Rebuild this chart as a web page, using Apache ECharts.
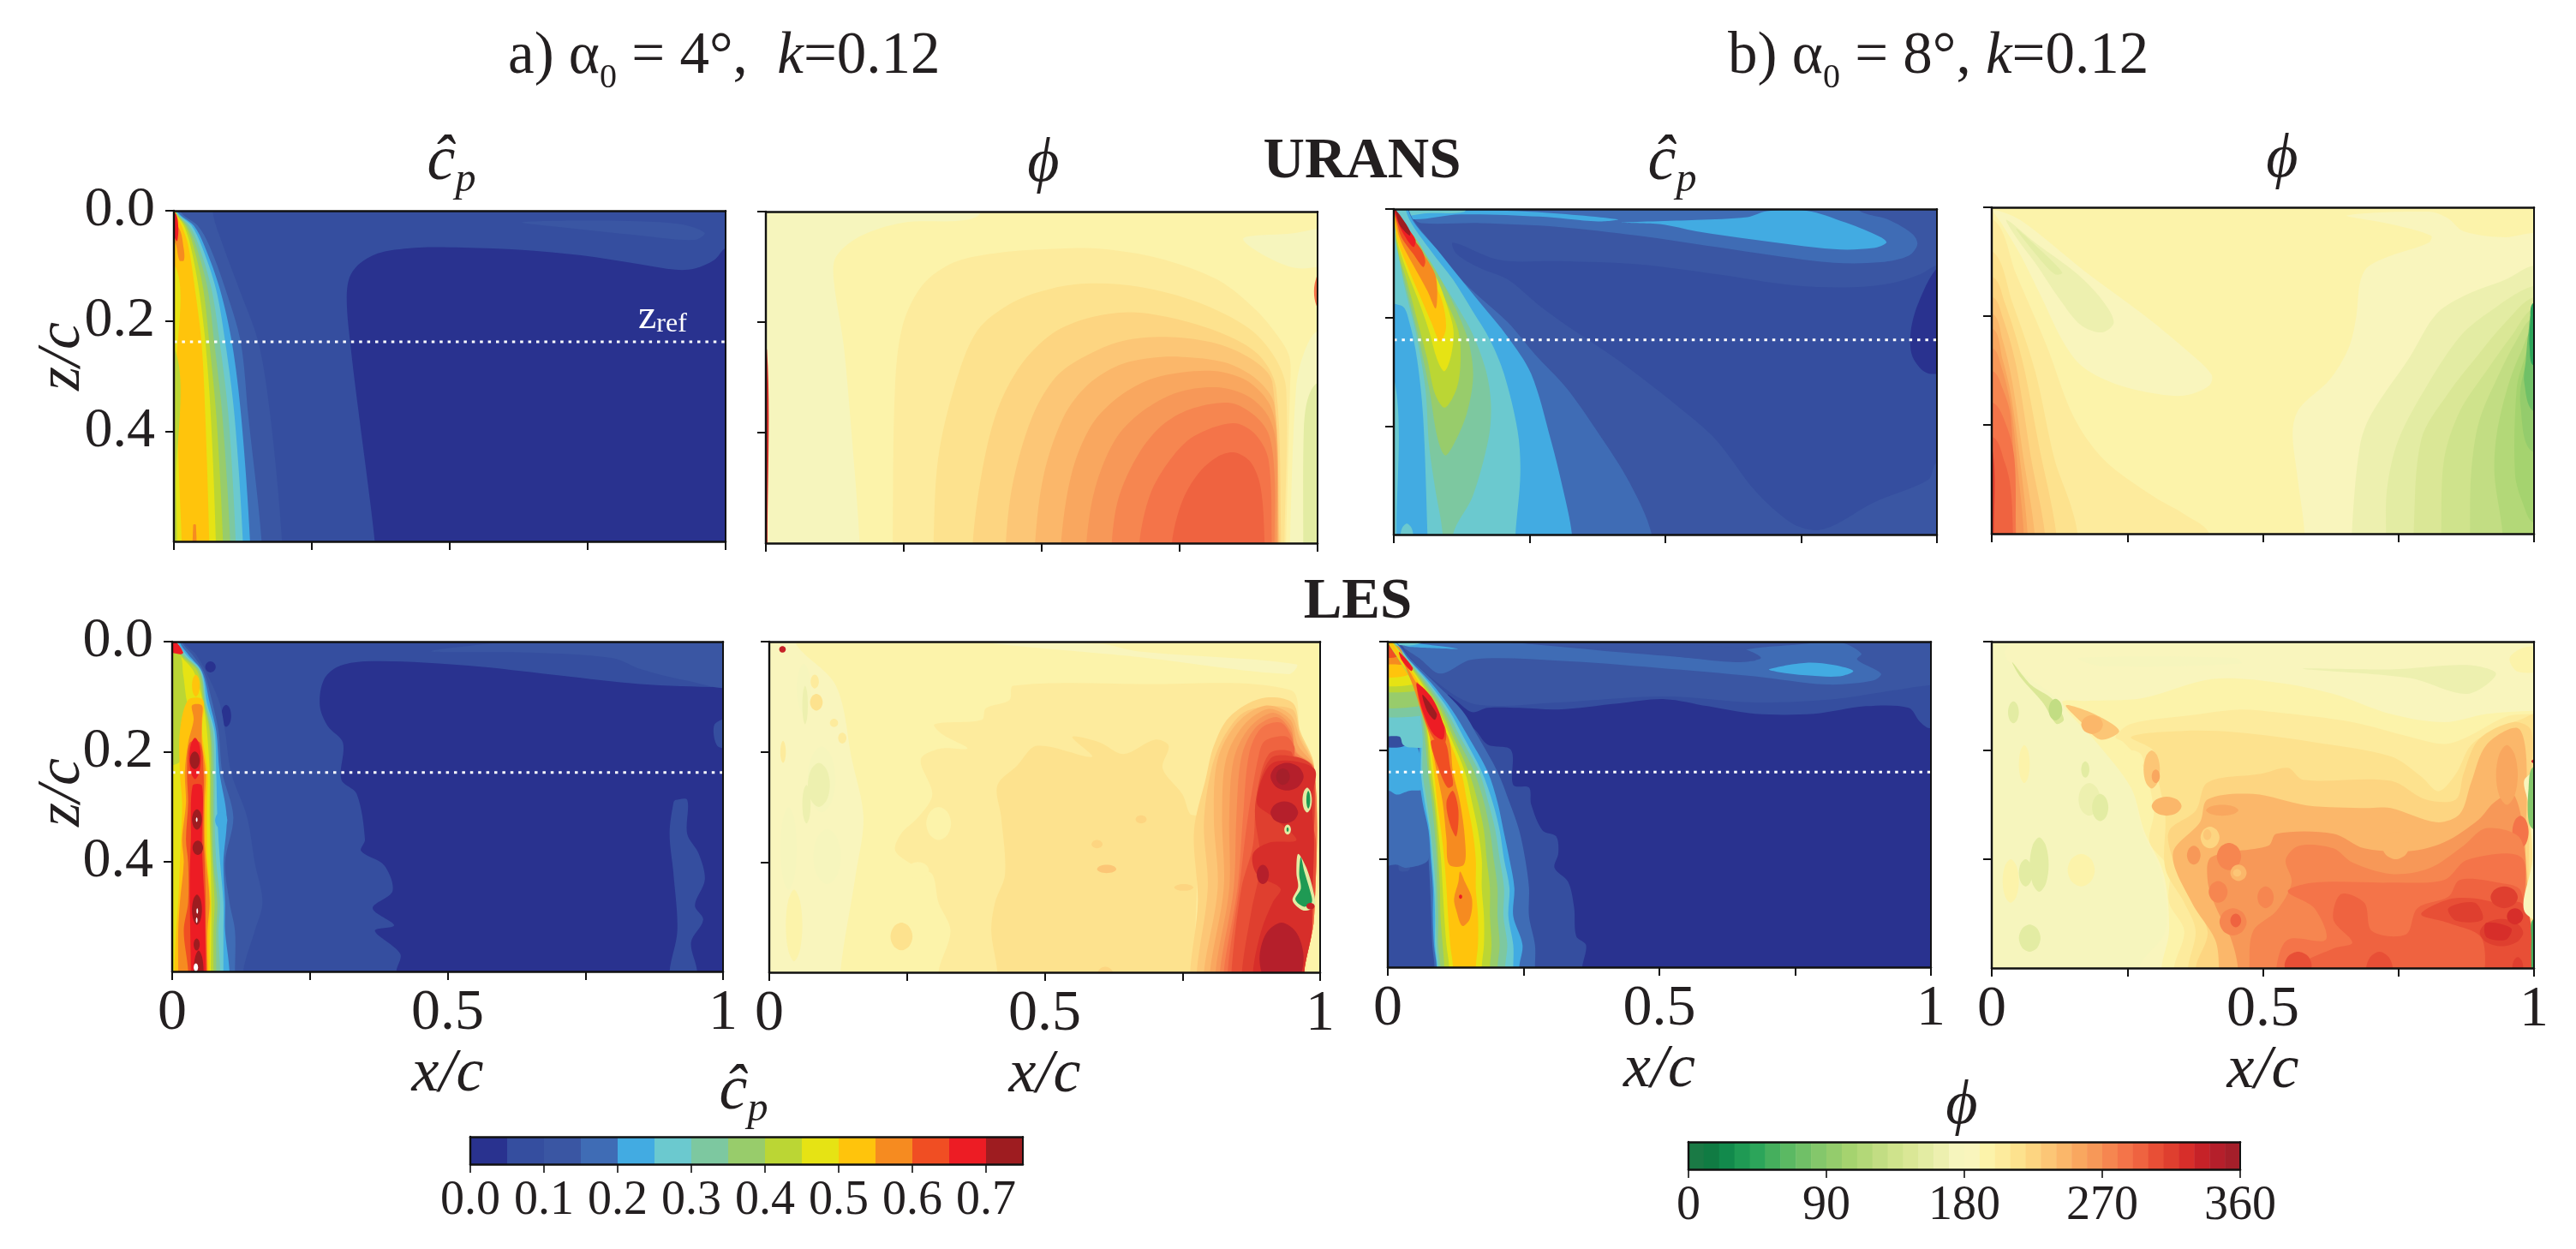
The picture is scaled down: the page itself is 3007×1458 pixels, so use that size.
<!DOCTYPE html>
<html><head><meta charset="utf-8">
<style>html,body{margin:0;padding:0;background:#fff}#c{width:3007px;height:1458px}</style>
<script src="https://cdn.jsdelivr.net/npm/echarts@6/dist/echarts.min.js"></script>
</head><body><div id="c"></div>
<script>
// ---------- colour levels (each level is 0.05 of cp-hat or 10 degrees of phi) ----------
const cpColors=['#29328F','#354E9F','#3A56A3','#3F6CB5','#42ABE2','#6BC9CF','#7DC8A0','#98CC6B','#BBD634','#E6E314','#FFC40C','#F68B20','#F04E23','#ED1C24','#9E1C20'];
const phiColors=['#1A7A45','#107B43','#128A4C','#1F9A54','#2CA55A','#45AF5D','#5BB963','#70C067','#84C76B','#94CC6C','#A5D36F','#B3D878','#C2DD83','#CFE38C','#DAE796','#E3ECA3','#EDF0AF','#F6F5BD','#F9F5BD','#FCF3AA','#FDEB9D','#FDE28E','#FDD581','#FCC676','#FBB76A','#F9A75F','#F79858','#F68650','#F47449','#EF6340','#E84F36','#DF3F2F','#D72E2A','#C62228','#B51F2B','#A51F2A'];
const xTicks=[0,.25,.5,.75,1], xLabels=[0,.5,1], zTicks=[0,.2,.4];
const cpBarTicks=[0,.1,.2,.3,.4,.5,.6,.7], phiBarTicks=[0,90,180,270,360];
// ---------- small builders that turn read-off outlines into closed contour bands ----------
const ALL=l=>[l,[-1,-1,2,-1,2,2,-1,2]];
const oval=(l,a,b,c,d)=>{const m=(a+b)/2,n=(c+d)/2,p=(b-a)*.35,q=(d-c)*.35;return [l,[a,n,m-p,n-q,m,c,m+p,n-q,b,n,m+p,n+q,m,d,m-p,n+q]];};
const edge=(l,zs,xs)=>[l,[-.1,zs[0]-.05,xs[0],zs[0]-.05,...zs.flatMap((z,i)=>[xs[i],z]),xs[xs.length-1],.7,-.1,.7]];
const foot=(l,p)=>[l,[p[0],.7,...p,p[p.length-2],.7]];
const side=(l,p,o)=>[l,[o,p[1],...p,p[p.length-2],.7,o,.7]];
const rib=(l,zs,ls,rs)=>[l,[...zs.flatMap((z,i)=>[rs[i],z]),...zs.slice().reverse().flatMap((z,i)=>[ls[zs.length-1-i],z])]];
// ---------- z_ref ----------
const zRefA=.238, zRefB=.241, zRefC=.238, zRefD=.2405;
// ---------- URANS, alpha 4, cp ----------
const z1=[0,.027,.063,.141,.238,.374,.6];
const uransCpA=[ALL(1),
[0,[1.05,.06,1,.068,.98,.089,.944,.105,.909,.107,.845,.097,.738,.081,.631,.071,.524,.067,.445,.067,.374,.076,.339,.094,.321,.115,.314,.141,.314,.182,.319,.234,.328,.312,.346,.452,.364,.6,.37,.7,1.1,.7,1.1,.05]],
[2,[.631,.021,.773,.018,.916,.024,.962,.04,.944,.053,.845,.045,.702,.03]],
edge(2,[.006,.063,.141,.238,.374,.6],[.071,.089,.118,.153,.175,.196]),
edge(3,z1,[.011,.043,.064,.093,.121,.135,.159]),
edge(4,z1,[.006,.036,.055,.083,.105,.122,.138]),
edge(5,z1,[.004,.032,.05,.076,.093,.11,.125]),
edge(6,z1,[.003,.028,.045,.068,.083,.099,.112]),
edge(7,z1,[.003,.024,.04,.061,.073,.088,.102]),
edge(8,z1,[.002,.021,.035,.053,.064,.077,.089]),
edge(9,z1,[.002,.018,.03,.045,.057,.067,.076]),
edge(10,z1,[.001,.014,.026,.038,.05,.057,.064]),
[9,[-.1,.1,.002,.1,.004,.3,.01,.5,.014,.6,.014,.7,-.1,.7]],
[8,[-.1,.25,.001,.25,.004,.5,.006,.6,.006,.7,-.1,.7]],
[11,[-.02,.02,.008,.03,.018,.07,.018,.09,.01,.09,.003,.06]],
[13,[-.02,-.01,.003,.005,.008,.03,.006,.055,.002,.05]],
[11,[.035,.57,.04,.57,.041,.7,.034,.7]]];
// ---------- URANS, alpha 4, phi ----------
const uransPhiA=[ALL(19),
[17,[-.1,-.05,.383,-.05,.383,.009,.248,.02,.17,.045,.127,.082,.123,.123,.141,.242,.155,.397,.17,.6,.17,.7,-.1,.7]],
[17,[.865,.05,.95,.04,1.05,.03,1.05,.08,.96,.102]],
[17,[1.05,.216,1,.216,.975,.257,.961,.32,.95,.6,.95,.7,1.1,.7,1.1,.2]],
[15,[1.05,.31,1,.31,.982,.34,.975,.397,.974,.6,.974,.7,1.1,.7,1.1,.3]],
foot(20,[.23,.6,.234,.32,.248,.206,.284,.133,.341,.092,.426,.074,.533,.067,.604,.067,.711,.084,.818,.123,.89,.18,.936,.237,.95,.268,.95,.32,.943,.6]),
foot(21,[.304,.6,.312,.449,.341,.32,.383,.216,.448,.164,.519,.139,.59,.13,.676,.136,.783,.164,.875,.211,.922,.263,.943,.32,.94,.6]),
foot(22,[.375,.6,.391,.475,.419,.361,.462,.278,.519,.221,.583,.193,.661,.182,.747,.195,.84,.226,.897,.263,.925,.32,.934,.6]),
foot(23,[.435,.6,.448,.49,.483,.371,.526,.299,.576,.263,.647,.234,.733,.227,.818,.239,.882,.268,.918,.309,.931,.6]),
foot(24,[.488,.6,.504,.475,.54,.371,.583,.314,.64,.278,.697,.265,.754,.263,.832,.273,.89,.304,.922,.351,.929,.6]),
foot(25,[.535,.6,.554,.475,.59,.387,.64,.335,.704,.301,.804,.288,.868,.304,.911,.345,.925,.397,.928,.6]),
foot(26,[.581,.6,.597,.5,.633,.413,.683,.361,.747,.327,.818,.318,.875,.335,.911,.371,.925,.423,.926,.6]),
foot(27,[.627,.6,.64,.516,.676,.438,.718,.387,.768,.358,.84,.346,.882,.366,.911,.402,.922,.475,.922,.6]),
foot(28,[.677,.6,.697,.511,.733,.449,.775,.407,.847,.383,.886,.402,.911,.449,.917,.6]),
foot(29,[.736,.6,.754,.526,.783,.475,.818,.444,.85,.436,.879,.454,.897,.5,.904,.6]),
[28,[.995,.13,1.02,.07,1.02,.19,.998,.17]],
[32,[-.02,.25,.002,.25,.003,.6,.003,.7,-.02,.7]]];
// ---------- URANS, alpha 8, cp ----------
const uransCpB=[ALL(2),
[1,[.109,.062,.195,.094,.304,.096,.449,.102,.593,.12,.738,.141,.847,.144,.919,.136,.97,.12,1,.104,1.05,.1,1.05,.47,1,.467,.984,.499,.883,.541,.81,.583,.774,.592,.731,.578,.666,.52,.593,.425,.521,.362,.412,.278,.326,.22,.268,.178,.21,.13,.159,.109,.116,.083]],
[0,[1,.109,.966,.173,.952,.225,.955,.272,.984,.303,1.03,.29,1.03,.1]],
[3,[.854,-.05,.854,0,.912,.02,.955,.046,.964,.065,.948,.086,.897,.098,.81,.099,.702,.086,.593,.07,.449,.049,.304,.033,.159,.026,.051,.026,.036,.015,.036,-.05]],
[4,[.42,.025,.557,.02,.651,.015,.687,.004,.76,.003,.832,.025,.897,.052,.907,.062,.883,.072,.81,.074,.666,.057,.557,.041,.492,.028]],
[4,[.029,.007,.13,.003,.253,.005,.412,.019,.376,.023,.268,.014,.123,.01,.036,.019]],
[5,[.007,-.01,.13,-.01,.13,.005,.06,.008,.012,.012]],
[3,[0,-.05,.036,.02,.065,.057,.109,.115,.152,.157,.21,.209,.26,.268,.318,.33,.376,.412,.434,.504,.475,.6,.48,.7,-.1,.7,-.1,-.05]],
[4,[0,-.05,.036,.023,.08,.075,.116,.12,.159,.173,.21,.236,.253,.304,.289,.425,.311,.514,.328,.6,.33,.7,-.1,.7,-.1,-.05]],
[5,[0,-.05,.029,.02,.069,.078,.109,.13,.145,.188,.177,.241,.203,.304,.228,.409,.233,.488,.224,.6,.22,.7,-.1,.7,-.1,-.05]],
[4,[-.05,.183,.014,.178,.029,.21,.043,.278,.054,.383,.062,.6,.064,.7,-.05,.7]],
[5,[-.05,.32,.002,.32,.005,.6,.005,.7,-.05,.7]],
oval(5,.012,.036,.58,.63),
[6,[.004,.025,.058,.083,.087,.13,.116,.178,.145,.23,.17,.299,.179,.362,.174,.425,.145,.53,.109,.6,.109,.7,.09,.7,.09,.6,.076,.514,.065,.436,.058,.33,.04,.225,.018,.136,.007,.067]],
[7,[.094,.454,.08,.42,.065,.33,.043,.225,.022,.141,.007,.078,.004,.041,.029,.041,.065,.094,.09,.136,.116,.188,.138,.246,.146,.309,.134,.378,.109,.436]],
[8,[.094,.366,.076,.341,.062,.278,.047,.22,.025,.136,.007,.073,.005,.03,.022,.041,.051,.088,.076,.13,.098,.173,.119,.225,.123,.278,.116,.33]],
[9,[.093,.299,.08,.278,.065,.225,.047,.173,.022,.109,.006,.057,.003,.015,.018,.03,.051,.083,.08,.13,.098,.178,.11,.225,.105,.272]],
[10,[.085,.244,.069,.209,.051,.167,.029,.115,.007,.057,.002,.01,.022,.036,.051,.088,.072,.13,.09,.173,.096,.22]],
[11,[.077,.183,.062,.151,.036,.104,.011,.054,.001,.005,.011,.02,.033,.052,.058,.088,.076,.12,.08,.151]],
[12,[.054,.107,.036,.083,.014,.052,.006,.025,0,0,.011,.015,.029,.046,.051,.075,.058,.096]],
[13,[.036,.07,.018,.046,.006,.02,0,-.002,.007,.007,.022,.03,.04,.057]],
[14,[.029,.049,.011,.03,.004,.007,0,-.002,.014,.015,.03,.041]]];
// ---------- URANS, alpha 8, phi ----------
const uransPhiB=[ALL(19),
[18,[.003,.005,.052,.023,.172,.118,.278,.196,.355,.259,.405,.307,.401,.328,.355,.346,.292,.341,.221,.322,.165,.291,.13,.244,.094,.17,.052,.086,.017,.028]],
[16,[.027,.023,.08,.065,.158,.123,.207,.175,.225,.212,.204,.23,.165,.217,.126,.17,.08,.102,.045,.055]],
[15,[.045,.039,.087,.076,.13,.12,.116,.123,.077,.081]],
[18,[.655,.015,.736,.031,.81,.052,.806,.065,.736,.089,.693,.11,.679,.139,.672,.202,.658,.259,.623,.317,.567,.37,.555,.412,.563,.49,.577,.6,.577,.7,1.1,.7,1.1,.047,1,.047,.947,.055,.87,.044,.841,.02,.806,.008]],
side(16,[1,.107,.947,.133,.877,.16,.82,.196,.771,.275,.7,.38,.679,.438,.664,.6],1.1),
side(15,[1,.144,.912,.196,.863,.238,.806,.322,.75,.427,.729,.517,.727,.6],1.1),
side(14,[1,.165,.947,.212,.898,.27,.841,.343,.792,.427,.778,.6],1.1),
side(13,[1,.186,.961,.233,.912,.301,.863,.375,.834,.464,.829,.6],1.1),
side(12,[1,.202,.968,.244,.933,.312,.898,.396,.884,.49,.882,.6],1.1),
side(11,[1,.223,.979,.259,.954,.322,.932,.412,.927,.49,.942,.6],1.1),
[10,[1.1,.241,1,.241,.982,.28,.968,.333,.965,.49,.979,.543,1,.58,1.1,.58]],
[9,[1.1,.27,1,.27,.979,.312,.975,.364,.996,.448,1.1,.45]],
[7,[1.1,.191,1,.191,.99,.228,.985,.28,.982,.322,1,.375,1.1,.375]],
[4,[1.1,.175,1,.175,.993,.212,.992,.259,1,.291,1.1,.291]],
side(20,[.003,.023,.045,.123,.101,.254,.151,.385,.207,.464,.299,.532,.355,.564,.401,.6],-.1),
side(21,[.001,.081,.038,.175,.08,.301,.116,.464,.144,.543,.158,.6],-.1),
side(22,[.001,.128,.024,.175,.056,.28,.087,.438,.119,.6],-.1),
side(23,[.001,.165,.02,.202,.045,.291,.073,.464,.098,.6],-.1),
side(24,[.001,.196,.02,.244,.038,.322,.059,.464,.079,.6],-.1),
side(25,[.001,.223,.02,.28,.035,.343,.052,.464,.066,.6],-.1),
side(26,[.001,.259,.017,.291,.035,.364,.049,.49,.059,.6],-.1),
side(27,[.001,.301,.02,.333,.035,.385,.045,.6],-.1),
side(28,[.001,.359,.027,.401,.042,.464,.044,.6],-.1),
side(29,[.001,.422,.024,.469,.035,.517,.039,.6],-.1),
[31,[-.02,.45,.002,.45,.004,.6,.004,.7,-.02,.7]]];
// ---------- LES, alpha 4, cp ----------
const z5=[0,.023,.054,.111,.163,.238,.319,.402,.474,.526,.6];
const lesCpA=[ALL(1),
[0,[1.05,.083,.996,.083,.849,.077,.707,.062,.564,.046,.457,.038,.35,.036,.3,.046,.275,.07,.268,.116,.282,.153,.31,.184,.307,.251,.335,.277,.35,.36,.343,.381,.385,.407,.4,.454,.364,.485,.403,.516,.368,.526,.414,.568,.407,.6,.407,.7,1.1,.7,1.1,.08]],
[1,[.914,.288,.935,.288,.935,.35,.956,.386,.967,.433,.949,.48,.964,.506,.942,.547,.953,.6,.953,.7,.903,.7,.903,.6,.917,.526,.91,.422,.903,.35,.91,.293]],
[1,[.985,.15,1.02,.14,1.02,.19,.99,.19]],
oval(0,.089,.107,.115,.155),oval(0,.06,.079,.036,.056),
[2,[.47,.017,.65,.02,.8,.03,.85,.05,.93,.07,1.02,.08,1.02,-.01,.75,-.01]],
edge(2,z5,[.021,.043,.061,.086,.096,.107,.136,.15,.164,.15,.129]),
edge(3,z5,[.018,.036,.057,.073,.084,.091,.111,.096,.104,.114,.114]),
edge(4,z5,[.014,.029,.054,.068,.08,.086,.099,.093,.096,.096,.104]),
edge(5,z5,[.011,.025,.053,.063,.077,.08,.082,.087,.093,.093,.093]),
edge(6,z5,[.009,.021,.051,.061,.074,.077,.077,.08,.087,.084,.087]),
edge(7,z5,[.006,.018,.05,.059,.07,.074,.074,.075,.082,.08,.08]),
edge(8,z5,[.004,.014,.046,.057,.068,.07,.07,.073,.077,.075,.075]),
edge(9,z5,[.004,.013,.039,.056,.063,.068,.068,.07,.071,.071,.07]),
[8,[-.05,.023,.012,.023,.02,.06,.025,.1,.03,.13,.018,.17,.012,.22,-.05,.22]],
rib(10,[.106,.163,.238,.293,.36,.402,.474,.526,.6,.7],[.029,.014,.014,.018,.016,.014,.011,.007,.004,.004],[.056,.054,.064,.063,.063,.064,.07,.068,.068,.068]),
oval(10,.036,.05,.06,.1),
rib(11,[.116,.142,.184,.238,.293,.36,.402,.474,.526,.6,.7],[.036,.039,.029,.023,.025,.018,.021,.014,.011,.011,.011],[.054,.054,.054,.061,.059,.059,.062,.068,.064,.064,.064]),
rib(12,[.184,.238,.293,.36,.402,.474,.526,.6,.7],[.032,.027,.029,.025,.029,.029,.021,.029,.029],[.051,.057,.057,.057,.059,.061,.061,.063,.063]),
oval(13,.031,.052,.175,.25),
rib(13,[.262,.36,.422,.474,.6,.7],[.037,.034,.032,.032,.034,.034],[.054,.054,.056,.059,.061,.061]),
oval(14,.032,.05,.2,.232),oval(14,.036,.054,.305,.342),oval(14,.037,.056,.362,.388),oval(14,.036,.054,.46,.515),oval(14,.039,.05,.54,.562),oval(14,.039,.057,.562,.64),
oval(-1,.043,.046,.32,.328),oval(-1,.044,.047,.485,.495),oval(-1,.043,.046,.502,.512),oval(-1,.039,.047,.585,.6),
[13,[-.02,-.01,.006,0,.02,.02,.015,.023,-.02,.012]],
oval(4,.078,.1,.31,.34)];
// ---------- LES, alpha 4, phi ----------
const lesPhiA=[ALL(19),
[18,[-.1,-.05,.05,-.02,.05,.007,.121,.08,.15,.214,.171,.318,.157,.422,.129,.6,.129,.7,-.1,.7]],
[18,[.4,.002,.671,.028,.943,.059,.957,.041,.671,.018,.6,.004]],
oval(17,.05,.075,.04,.13),oval(16,.06,.07,.08,.15),oval(17,.07,.12,.19,.31),oval(16,.07,.11,.22,.3),oval(17,.02,.05,.3,.45),oval(17,.08,.13,.34,.44),oval(16,.06,.075,.26,.33),oval(19,.03,.06,.45,.58),oval(20,.02,.03,.18,.22),oval(21,.074,.097,.095,.125),oval(20,.125,.14,.165,.185),oval(20,.075,.09,.06,.085),oval(20,.11,.125,.14,.155),
[20,[.443,.08,.671,.077,.946,.088,.964,.163,.989,.225,1,.4,.99,.5,.975,.6,.975,.7,.307,.7,.307,.6,.329,.525,.307,.473,.296,.422,.271,.411,.229,.38,.239,.349,.271,.318,.296,.277,.275,.214,.311,.194,.36,.194,.314,.168,.3,.15,.386,.142,.393,.121,.436,.106]],
oval(19,.285,.33,.3,.36),oval(21,.22,.26,.51,.56),oval(19,.25,.29,.4,.43),
[21,[.486,.189,.586,.209,.55,.173,.6,.183,.643,.204,.7,.178,.725,.189,.714,.23,.75,.277,.764,.313,.778,.318,.771,.6,.771,.7,.414,.7,.414,.6,.403,.525,.41,.473,.428,.422,.421,.318,.414,.261,.45,.225]],
oval(22,.665,.685,.315,.33),oval(22,.585,.605,.36,.375),oval(23,.595,.63,.405,.42),oval(22,.735,.77,.44,.452),oval(22,.595,.625,.59,.62),
foot(22,[.764,.6,.778,.473,.771,.344,.793,.246,.807,.189,.835,.137,.893,.103,.95,.111,.964,.163,.989,.225,.989,.5,.971,.6]),
foot(23,[.776,.6,.796,.448,.789,.33,.803,.23,.828,.168,.868,.125,.948,.122,.964,.17,.989,.228,.989,.5,.971,.6]),
foot(24,[.789,.6,.814,.448,.807,.318,.814,.214,.85,.147,.9,.116,.946,.132,.964,.178,.989,.23,.989,.5,.971,.6]),
foot(25,[.8,.6,.825,.448,.822,.318,.829,.214,.861,.152,.907,.122,.946,.142,.96,.188,.989,.23,.989,.5,.971,.6]),
foot(26,[.81,.6,.835,.448,.835,.318,.843,.214,.871,.157,.914,.129,.946,.152,.957,.199,.989,.23,.989,.5,.971,.6]),
foot(27,[.818,.6,.843,.448,.848,.318,.857,.21,.882,.157,.922,.137,.948,.165,.955,.2,.989,.23,.989,.5,.971,.6]),
foot(28,[.825,.6,.85,.448,.86,.318,.871,.204,.893,.157,.929,.147,.95,.178,.953,.204,.989,.23,.989,.5,.971,.6]),
foot(29,[.832,.6,.853,.448,.869,.318,.889,.204,.9,.18,.938,.172,.953,.19,.955,.215,.987,.23,.987,.4,.985,.5,.971,.6]),
foot(30,[.839,.6,.857,.448,.878,.37,.885,.277,.907,.204,.946,.199,.957,.225,.985,.23,.985,.318,.993,.37,.985,.525,.971,.6]),
foot(31,[.858,.6,.875,.49,.892,.4,.882,.3,.91,.212,.96,.21,.987,.23,.987,.4,.985,.5,.971,.6]),
foot(32,[.878,.6,.893,.525,.914,.473,.928,.448,.885,.422,.878,.385,.907,.365,.957,.36,.914,.318,.885,.292,.914,.22,.989,.23,.985,.287,.989,.365,.985,.473,.985,.525,.971,.6]),
oval(34,.91,.97,.22,.27),oval(35,.92,.945,.23,.26),oval(34,.885,.907,.405,.44),oval(34,.89,.97,.51,.64),oval(34,.91,.96,.29,.33),
[15,[.96,.385,.975,.41,.987,.45,.99,.48,.97,.488,.95,.47,.96,.445,.957,.42]],
[3,[.965,.391,.971,.416,.982,.453,.985,.473,.971,.481,.955,.468,.965,.448,.962,.422]],
oval(15,.968,.985,.265,.31),oval(3,.975,.982,.271,.303),
oval(15,.935,.947,.332,.35),oval(3,.939,.943,.337,.345),
oval(33,.975,.99,.474,.486),
oval(33,.018,.03,.008,.02)];
// ---------- LES, alpha 8, cp ----------
const z7=[0,.033,.075,.127,.175,.24,.296,.348,.401,.454,.506,.559,.6,.7];
const lesCpB=[ALL(0),
[1,[1.05,-.03,1.05,.12,.999,.159,.98,.148,.959,.122,.88,.119,.785,.133,.676,.133,.589,.119,.51,.106,.423,.114,.314,.125,.242,.122,.184,.122,.155,.13,.126,.109,.11,.098,.125,.13,.162,.164,.184,.19,.227,.2,.231,.264,.26,.269,.264,.3,.285,.348,.31,.359,.314,.39,.307,.417,.332,.443,.343,.49,.347,.543,.365,.559,.358,.6,.35,.7,-.05,.7,-.05,-.03]],
[2,[.032,.017,.11,.09,.169,.117,.314,.112,.51,.101,.676,.112,.821,.106,.93,.09,1,.08,1.05,.08,1.05,-.03,.03,-.03]],
[3,[.028,.006,.133,.001,.22,.001,.459,.022,.676,.035,.654,.017,.749,.006,.835,.002,.872,.022,.864,.033,.908,.059,.893,.072,.807,.079,.676,.064,.495,.048,.314,.035,.155,.033,.097,.059,.061,.033]],
[2,[.22,.001,.459,.006,.647,.012,.687,.03,.641,.038,.459,.019,.3,.006]],
[4,[.702,.051,.77,.039,.821,.043,.857,.054,.831,.064,.77,.062,.719,.056]],
[4,[.032,.002,.129,.013,.061,.011,.032,.008]],
[5,[.003,-.01,.06,-.01,.06,.003,.02,.006]],
[2,[.03,.3,.05,.33,.04,.42,.02,.42]],
rib(3,z7,[0,.015,.038,.05,.055,.053,.06,.07,.075,.078,.08,.082,.086,.086],[.014,.043,.086,.137,.166,.202,.224,.242,.253,.26,.26,.271,.271,.271]),
[3,[-.05,.26,.054,.269,.068,.322,.075,.401,.035,.417,.014,.411,-.05,.42]],
[4,[-.05,.2,.02,.195,.05,.19,.061,.217,.07,.27,.039,.275,.017,.282,.003,.275,-.05,.27]],
rib(4,z7,[0,.017,.041,.054,.059,.057,.064,.075,.079,.083,.083,.085,.09,.09],[.013,.039,.079,.119,.148,.184,.202,.213,.224,.233,.231,.248,.242,.242]),
[5,[-.05,.13,.07,.125,.08,.19,.04,.195,.028,.19,.021,.175,-.05,.175]],
rib(5,z7,[0,.018,.042,.056,.062,.061,.068,.077,.081,.085,.087,.087,.091,.091],[.012,.038,.075,.113,.139,.173,.193,.206,.214,.224,.222,.231,.231,.231]),
[6,[-.05,.112,.065,.11,.07,.135,-.05,.135]],
rib(6,z7,[0,.019,.043,.058,.064,.064,.072,.079,.084,.088,.088,.09,.093,.093],[.01,.036,.072,.108,.133,.168,.185,.198,.206,.214,.213,.22,.216,.216]),
[7,[-.05,.085,.06,.085,.065,.117,-.05,.117]],
[8,[-.05,.072,.055,.072,.06,.09,-.05,.09]],
[9,[-.05,.055,.045,.055,.05,.078,-.05,.078]],
[10,[-.05,.02,.022,.02,.04,.06,-.05,.06]],
[11,[-.05,.005,.018,.008,.03,.04,.008,.042,-.05,.04]],
[12,[-.05,-.01,.01,.005,.02,.025,.006,.03,-.05,.025]],
rib(7,z7,[0,.02,.045,.061,.068,.074,.081,.086,.09,.091,.093,.093,.097,.097],[.009,.035,.068,.103,.126,.159,.177,.188,.195,.202,.202,.206,.202,.202]),
rib(8,z7,[0,.02,.046,.064,.072,.077,.085,.09,.093,.096,.097,.101,.104,.104],[.007,.033,.064,.098,.12,.149,.166,.177,.182,.188,.188,.191,.188,.188]),
rib(9,z7,[0,.021,.048,.067,.074,.081,.088,.093,.098,.101,.104,.108,.113,.113],[.007,.032,.061,.093,.115,.142,.155,.166,.173,.173,.177,.177,.173,.173]),
rib(10,z7,[0,.022,.05,.068,.077,.085,.091,.098,.104,.108,.111,.115,.12,.12],[.006,.03,.057,.088,.11,.135,.146,.156,.162,.162,.166,.166,.162,.162]),
[11,[.021,.019,.05,.072,.111,.175,.12,.24,.133,.296,.142,.364,.14,.411,.113,.411,.108,.364,.101,.296,.09,.24,.077,.175,.061,.127,.046,.08]],
[11,[.133,.424,.142,.443,.155,.474,.151,.511,.137,.524,.126,.495,.122,.474,.13,.443]],
[12,[.054,.075,.104,.154,.106,.185,.09,.185,.072,.154,.057,.106]],
[12,[.09,.18,.106,.185,.115,.232,.12,.264,.11,.269,.093,.232,.079,.185]],
[12,[.12,.275,.13,.311,.126,.359,.115,.338,.108,.296]],
[13,[.054,.077,.083,.106,.104,.159,.101,.18,.083,.169,.064,.127,.057,.101]],
[14,[.064,.098,.09,.133,.086,.144,.072,.127]],
[13,[.021,.019,.046,.048,.043,.054,.025,.033]],
oval(13,.131,.137,.466,.474)];
// ---------- LES, alpha 8, phi ----------
const lesPhiB=[ALL(18),
[17,[-.1,-.05,.1,-.05,.024,.022,.116,.101,.193,.18,.257,.269,.278,.348,.313,.427,.32,.532,.271,.6,.271,.7,-.1,.7]],
[17,[.16,.03,.45,.03,.46,.04,.2,.045]],
[16,[.574,.05,.736,.051,.877,.043,.93,.059,.877,.096,.771,.067]],
[19,[.955,.03,.985,.01,1.03,.015,1.03,.05,.97,.055]],
oval(15,.07,.105,.36,.46),oval(15,.05,.075,.4,.45),oval(15,.05,.09,.52,.57),oval(16,.16,.2,.26,.32),oval(15,.185,.215,.28,.33),oval(19,.02,.05,.4,.48),oval(19,.14,.19,.39,.45),oval(19,.05,.07,.19,.26),oval(15,.03,.05,.11,.15),oval(15,.165,.18,.22,.25),
[19,[1.1,.127,1,.127,.912,.133,.835,.148,.736,.133,.63,.096,.525,.075,.405,.069,.278,.104,.172,.109,.13,.112,.193,.185,.257,.269,.281,.348,.317,.427,.327,.532,.313,.6,.313,.7,1.1,.7]],
[20,[1.1,.133,1,.133,.948,.138,.877,.175,.835,.188,.771,.175,.665,.148,.525,.13,.454,.125,.369,.135,.257,.151,.228,.175,.243,.185,.278,.227,.299,.311,.291,.369,.327,.417,.327,.48,.355,.532,.336,.6,.336,.7,1.1,.7]],
[21,[.257,.175,.355,.164,.454,.167,.595,.185,.736,.211,.792,.248,.824,.275,.856,.243,.884,.19,.933,.159,.976,.143,1,.133,1.1,.13,1.1,.7,.362,.7,.362,.6,.376,.532,.355,.48,.32,.417,.32,.322,.306,.248,.299,.201]],
[23,[.137,.117,.193,.135,.235,.164,.2,.18,.165,.148]],oval(24,.165,.205,.135,.17),
[14,[.038,.038,.073,.08,.112,.106,.133,.143,.119,.151,.094,.112,.052,.064]],oval(12,.105,.13,.105,.145),
oval(23,.28,.31,.2,.27),oval(25,.295,.31,.235,.26),oval(19,.24,.28,.2,.24),oval(24,.295,.35,.285,.32),
[22,[.398,.259,.497,.243,.546,.232,.574,.254,.736,.256,.8,.29,.856,.29,.87,.243,.898,.18,.962,.148,.995,.164,.993,.269,.99,.48,.998,.6,.998,.7,.376,.7,.376,.6,.398,.532,.355,.453,.334,.401,.327,.348,.376,.311]],
[24,[.384,.332,.398,.29,.482,.28,.581,.301,.694,.306,.736,.306,.82,.332,.863,.317,.884,.259,.912,.19,.97,.159,.986,.217,.983,.48,.998,.6,.998,.7,.419,.7,.419,.6,.412,.548,.369,.48,.334,.39]],
oval(25,.395,.455,.3,.32),oval(22,.385,.42,.34,.38),oval(23,.39,.405,.345,.365),oval(26,.36,.385,.375,.41),oval(22,.44,.47,.41,.44),
[26,[.454,.6,.44,.543,.412,.485,.398,.438,.405,.396,.51,.375,.525,.353,.63,.353,.687,.38,.771,.385,.834,.369,.898,.327,.926,.296,.962,.28,.983,.375,.99,.6,.99,.7,.454,.7]],
oval(25,.93,.97,.19,.3),oval(27,.97,.98,.33,.37),oval(28,.96,.99,.32,.38),
oval(27,.415,.46,.37,.42),oval(24,.44,.47,.41,.44),oval(23,.445,.46,.418,.432),oval(27,.4,.435,.44,.48),oval(24,.72,.77,.35,.4),
[27,[.475,.6,.482,.532,.525,.495,.553,.443,.542,.401,.567,.375,.63,.38,.665,.406,.736,.427,.806,.417,.87,.375,.912,.343,.976,.364,.983,.48,.99,.6,.99,.7,.475,.7]],
oval(27,.42,.47,.49,.54),oval(29,.44,.46,.5,.525),oval(27,.49,.52,.45,.49),
[28,[.525,.6,.546,.548,.616,.548,.595,.49,.546,.459,.595,.443,.736,.443,.834,.438,.877,.401,.976,.396,.983,.48,.99,.6,.99,.7,.525,.7]],
[29,[.567,.6,.63,.564,.665,.553,.63,.511,.644,.464,.687,.48,.701,.532,.764,.538,.785,.49,.842,.469,.863,.438,.933,.443,.976,.459,.99,.6,.99,.7,.567,.7]],
[30,[.792,.501,.842,.474,.891,.472,.933,.48,.976,.48,.993,.511,.998,.6,.998,.7,.912,.7,.905,.548,.842,.517]],
oval(30,.54,.59,.57,.62),oval(30,.69,.74,.57,.64),
[31,[.842,.49,.891,.48,.905,.511,.856,.513]],oval(31,.92,.97,.45,.49),oval(31,.9,.98,.51,.56),
[32,[.912,.517,.958,.527,.948,.548,.912,.543]],oval(32,.95,.98,.49,.52),oval(31,.96,.98,.58,.62),
[18,[.985,.25,1.1,.2,1.1,.52,.985,.5,.997,.4,.99,.3]],
[8,[1.1,.23,1,.23,.99,.27,.99,.33,1,.345,1.1,.345]],
[5,[1.1,.51,1,.51,.995,.55,.995,.6,.995,.7,1.1,.7]],
[33,[.995,.22,1.02,.21,1.02,.23]]];

// ---------- page layout ----------
const panels=[
 {b:uransCpA, c:cpColors,  box:[203,246,644,386], row:0,y:true,  zr:zRefA},
 {b:uransPhiA,c:phiColors, box:[894,247,644,387], row:0,y:false},
 {b:uransCpB, c:cpColors,  box:[1627,244,634,380],row:0,y:false,zr:zRefB},
 {b:uransPhiB,c:phiColors, box:[2325,242,633,381],row:0,y:false},
 {b:lesCpA,   c:cpColors,  box:[201,749,643,385], row:1,y:true, zr:zRefC},
 {b:lesPhiA,  c:phiColors, box:[898,749,643,386], row:1,y:false},
 {b:lesCpB,   c:cpColors,  box:[1620,749,634,380],row:1,y:false,zr:zRefD},
 {b:lesPhiB,  c:phiColors, box:[2325,749,633,381],row:1,y:false}];
const ink='#231F20', serif='"Liberation Serif","Times New Roman",serif';
const grid=[],xAxis=[],yAxis=[],series=[];
const line=w=>({show:true,onZero:false,lineStyle:{color:'#111',width:w}});
function addAxes(box,xo,yo){
 const g=grid.length;
 grid.push({left:box[0],top:box[1],width:box[2],height:box[3],containLabel:false});
 xAxis.push({type:'value',gridIndex:g,position:'bottom',z:6,axisLine:line(2.6),splitLine:{show:false},...xo});
 xAxis.push({type:'value',gridIndex:g,position:'top',z:6,min:xo.min,max:xo.max,axisLine:line(2.6),axisTick:{show:false},axisLabel:{show:false},splitLine:{show:false}});
 yAxis.push({type:'value',gridIndex:g,position:'left',z:6,axisLine:line(2.4),splitLine:{show:false},...yo});
 yAxis.push({type:'value',gridIndex:g,position:'right',z:6,min:yo.min,max:yo.max,inverse:yo.inverse,axisLine:line(2),axisTick:{show:false},axisLabel:{show:false},splitLine:{show:false}});
 return {x:xAxis.length-2,y:yAxis.length-2};
}
panels.forEach(p=>{
 const ix=addAxes(p.box,
 {min:0,max:1,axisTick:{show:true,customValues:xTicks,length:10,lineStyle:{color:'#111',width:2}},
  axisLabel:{show:p.row===1,customValues:xLabels,margin:15,fontFamily:serif,fontSize:68,color:ink,formatter:v=>String(v)},
  name:p.row===1?'x/c':'',nameLocation:'middle',nameGap:p.box[1]+p.box[3]>1131?72:77,
  nameTextStyle:{fontFamily:serif,fontStyle:'italic',fontSize:72,color:ink}},
 {min:0,max:.6,inverse:true,axisTick:{show:true,customValues:zTicks,length:10,lineStyle:{color:'#111',width:2}},
  axisLabel:{show:p.y,customValues:zTicks,margin:22,fontFamily:serif,fontSize:66,color:ink,formatter:v=>v.toFixed(1)}});
 series.push({type:'custom',xAxisIndex:ix.x,yAxisIndex:ix.y,clip:true,silent:true,z:2,
  data:p.b.map((b,i)=>[i,b[0]]),encode:{x:-1,y:-1},
  renderItem:(prm,api)=>{const b=p.b[prm.dataIndex],pts=[];
   for(let i=0;i<b[1].length;i+=2)pts.push(api.coord([b[1][i],b[1][i+1]]));
   return {type:'polygon',shape:{points:pts,smooth:.32},style:{fill:b[0]<0?'#fff':p.c[b[0]]}};}});
 if(p.zr!==undefined) series.push({type:'line',xAxisIndex:ix.x,yAxisIndex:ix.y,silent:true,z:4,symbol:'none',
  data:[[0,p.zr],[1,p.zr]],lineStyle:{color:'#fff',width:3,type:[3.5,5.9]},animation:false});
});
// colour bars
function colorBar(box,colors,step,ticks,fmt){
 const max=colors.length*step;
 const ix=addAxes(box,{min:0,max:max,axisTick:{show:true,customValues:ticks,length:10,lineStyle:{color:'#111',width:1.6}},
  axisLabel:{show:true,customValues:ticks,margin:15,fontFamily:serif,fontSize:56,color:ink,formatter:fmt}},
  {min:0,max:1,axisTick:{show:false},axisLabel:{show:false}});
 series.push({type:'custom',xAxisIndex:ix.x,yAxisIndex:ix.y,silent:true,z:2,
  data:colors.map((c,i)=>[i*step,(i+1)*step]),encode:{x:[0,1]},
  renderItem:(prm,api)=>{const a=api.coord([api.value(0),1]),b=api.coord([api.value(1),0]);
   return {type:'rect',shape:{x:a[0],y:a[1],width:b[0]-a[0]+.5,height:b[1]-a[1]},style:{fill:colors[prm.dataIndex]}};}});
}
colorBar([549,1327,645,32],cpColors,.05,cpBarTicks,v=>v.toFixed(1));
colorBar([1971,1333,644,32],phiColors,10,phiBarTicks,v=>String(v));
// texts
const big=(t,x,y,rich)=>({type:'text',x,y,z:20,silent:true,style:{text:t,align:'left',verticalAlign:'middle',fontFamily:serif,fill:ink,rich}});
const titleRich={a:{fontFamily:serif,fontSize:69,lineHeight:88,fill:ink},
 i:{fontFamily:serif,fontStyle:'italic',fontSize:69,lineHeight:88,fill:ink},
 s:{fontFamily:serif,fontSize:40,lineHeight:40,verticalAlign:'bottom',fill:ink}};
const cpRich={c:{fontFamily:serif,fontStyle:'italic',fontSize:74,lineHeight:88,fill:ink},
 p:{fontFamily:serif,fontStyle:'italic',fontSize:48,lineHeight:48,verticalAlign:'bottom',fill:ink}};
const ctr=(t,x,y,font,extra)=>({type:'text',x,y,z:20,silent:true,style:Object.assign({text:t,align:'center',verticalAlign:'middle',fill:ink},font,extra)});
const cpT=(x,y)=>ctr('{c|ĉ}{p|p}',x,y,{fontFamily:serif},{rich:cpRich});
const phiT=(x,y)=>ctr('ϕ',x,y,{fontFamily:serif,fontStyle:'italic',fontSize:72});
const bold={fontFamily:serif,fontWeight:'bold',fontSize:67};
const zc={fontFamily:serif,fontStyle:'italic',fontSize:72};
const graphic=[
 big('{a|a) α}{s|0}{a| = 4°,  }{i|k}{a|=0.12}',593,67,titleRich),
 big('{a|b) α}{s|0}{a| = 8°, }{i|k}{a|=0.12}',2017,67,titleRich),
 ctr('URANS',1590,190,bold),ctr('LES',1585,704,bold),
 cpT(527,190),phiT(1218,192),cpT(1952,190),phiT(2664,187),
 cpT(868,1275),phiT(2290,1292),
 Object.assign(ctr('z/c',73,416,zc),{rotation:Math.PI/2}),
 Object.assign(ctr('z/c',73,925,zc),{rotation:Math.PI/2}),
 {type:'text',x:745,y:370,z:20,silent:true,style:{text:'{z|z}{r|ref}',align:'left',verticalAlign:'middle',
  rich:{z:{fontFamily:serif,fontSize:48,lineHeight:50,fill:'#fff'},r:{fontFamily:serif,fontSize:32,lineHeight:32,verticalAlign:'bottom',fill:'#fff'}}}}
];
const chart=echarts.init(document.getElementById('c'),null,{renderer:'canvas'});
chart.setOption({animation:false,backgroundColor:'#fff',tooltip:{show:false},grid,xAxis,yAxis,series,graphic});
</script></body></html>
